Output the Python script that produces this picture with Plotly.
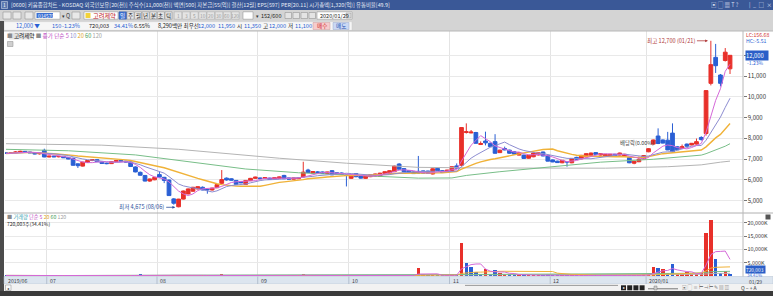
import plotly.graph_objects as go
import pandas as pd

W, H = 773, 296
FONT = "Noto Sans CJK KR"

# ---------------- data ----------------
month_labels = ["2019/06", "07", "08", "09", "10", "11", "12", "2020/01"]
month_start = [0, 9, 32, 53, 72, 93, 114, 134]
last_label = "01/29"

open_ = [7300, 7270, 7300, 7340, 7370, 7340, 7300, 7250, 7420, 7100,
         7140, 7110, 7130, 7080, 7040, 6770, 6660, 6830, 6930, 6970,
         6860, 6800, 6780, 6880, 6930, 6900, 6860, 6620, 6360, 6210,
         5940, 6000, 6250, 6120, 5990, 5080, 4700, 5070, 5320, 5450,
         5560, 5640, 5540, 5510, 5620, 5830, 6080, 6050, 5970, 5920,
         5780, 5960, 6070, 6090, 6060, 6080, 6040, 6070, 6210, 6090,
         6030, 6050, 6140, 6470, 6310, 6380, 6380, 6300, 6440, 6340,
         6330, 6230, 6070, 6300, 6180, 6070, 6150, 6180, 6160, 6310,
         6300, 6390, 6760, 6540, 6440, 6380, 6410, 6430, 6420, 6280,
         6550, 6440, 6360, 6400, 6670, 6700, 8280, 8260, 8280, 7700,
         7870, 7760, 7840, 7310, 7510, 7430, 7350, 7190, 7190, 7040,
         7110, 7200, 7340, 7180, 6960, 6900, 6820, 6880, 6820, 7080,
         7010, 7100, 7180, 7310, 7190, 7140, 7150, 7230, 7190, 7140,
         7080, 6800, 6870, 7000, 7350, 7720, 8110, 7920, 7910, 8250,
         7590, 7510, 7720, 7680, 7720, 8040, 8230, 10650, 11900, 11050,
         11750, 11350]
high = [7330, 7310, 7380, 7400, 7390, 7360, 7310, 7290, 7500, 7160,
        7170, 7150, 7140, 7100, 7060, 6790, 6870, 6950, 6990, 6990,
        6880, 6830, 6900, 6940, 6950, 6920, 6880, 6650, 6400, 6230,
        6060, 6140, 6390, 6140, 6010, 5120, 5080, 5480, 5580, 5660,
        5680, 5680, 5570, 5620, 5790, 6470, 6110, 6070, 5990, 5940,
        5990, 6090, 6150, 6110, 6120, 6100, 6110, 6160, 6240, 6110,
        6100, 6110, 6870, 6530, 6420, 6420, 6400, 6390, 6470, 6360,
        6350, 6250, 6230, 6320, 6200, 6200, 6260, 6300, 6340, 6400,
        6460, 6690, 6800, 6570, 6460, 6400, 7150, 6450, 6440, 6550,
        6570, 6460, 6480, 6640, 6790, 8520, 8720, 8400, 8310, 7850,
        8320, 7800, 8200, 7450, 7600, 7450, 7370, 7310, 7210, 7200,
        7310, 7310, 7360, 7200, 6980, 6920, 6950, 6890, 7050, 7110,
        7200, 7280, 7310, 7330, 7290, 7240, 7240, 7250, 7310, 7240,
        7100, 6910, 7120, 7190, 7530, 7940, 8480, 7950, 8310, 8720,
        7630, 7700, 7750, 7770, 7990, 8100, 10300, 12700, 12550, 11100,
        12350, 12000]
low = [7250, 7250, 7290, 7320, 7320, 7290, 7230, 7220, 7090, 7080,
       7090, 7080, 7050, 6990, 6680, 6570, 6640, 6810, 6900, 6860,
       6770, 6750, 6770, 6860, 6880, 6840, 6620, 6360, 6200, 5920,
       5900, 5980, 6110, 5840, 5230, 4800, 4675, 5050, 5300, 5420,
       5540, 5500, 5330, 5480, 5600, 5800, 5960, 5960, 5760, 5840,
       5760, 5940, 6050, 6040, 6040, 6000, 6020, 6050, 6030, 6010,
       6020, 6040, 6120, 6330, 6290, 6340, 6290, 6280, 6220, 6260,
       6250, 5680, 6050, 6120, 6060, 6050, 6130, 6160, 6140, 6290,
       6280, 6370, 6480, 6370, 6330, 6290, 6300, 6300, 6290, 6260,
       6420, 6330, 6340, 6380, 6540, 6650, 8230, 8240, 7740, 7680,
       7660, 7580, 7260, 7290, 7420, 7260, 7230, 7170, 7010, 7020,
       7090, 7170, 7130, 6890, 6850, 6810, 6800, 6630, 6800, 6970,
       6990, 7080, 7160, 7210, 7170, 7120, 7140, 7140, 7170, 7120,
       6800, 6750, 6850, 6980, 7330, 7700, 7720, 7750, 7430, 7330,
       7430, 7490, 7600, 7660, 7700, 7890, 8130, 10550, 11150, 10500,
       11700, 11100]
close = [7270, 7300, 7340, 7370, 7340, 7300, 7250, 7280, 7100, 7140,
         7110, 7130, 7060, 7000, 6700, 6680, 6850, 6930, 6970, 6870,
         6790, 6780, 6880, 6930, 6900, 6860, 6640, 6380, 6220, 5940,
         6040, 6120, 6130, 5970, 5240, 4870, 5070, 5460, 5560, 5640,
         5670, 5510, 5520, 5600, 5770, 6010, 5990, 5980, 5780, 5850,
         5970, 6070, 6130, 6060, 6110, 6020, 6100, 6140, 6050, 6030,
         6090, 6090, 6370, 6350, 6400, 6360, 6310, 6380, 6240, 6280,
         6260, 6210, 6220, 6150, 6080, 6180, 6240, 6280, 6320, 6390,
         6440, 6660, 6510, 6390, 6350, 6300, 6320, 6320, 6310, 6530,
         6440, 6350, 6470, 6630, 6560, 8520, 8320, 8300, 7760, 7750,
         7780, 7600, 7280, 7430, 7440, 7280, 7240, 7300, 7030, 7180,
         7290, 7300, 7150, 6900, 6860, 6830, 6940, 6860, 7030, 6990,
         7180, 7260, 7290, 7230, 7260, 7230, 7230, 7150, 7290, 7230,
         6820, 6890, 6990, 7170, 7500, 7920, 7750, 7770, 7440, 7350,
         7450, 7600, 7620, 7760, 7840, 7940, 10300, 11550, 11500, 10650,
         12150, 12000]
volume_k = [210, 160, 240, 190, 150, 140, 170, 130, 290, 180,
            150, 130, 160, 200, 310, 260, 230, 190, 150, 140,
            160, 130, 170, 150, 120, 130, 230, 330, 380, 300,
            240, 190, 210, 220, 350, 330, 360, 300, 250, 220,
            180, 170, 200, 160, 230, 510, 250, 180, 200, 150,
            170, 160, 150, 120, 130, 140, 120, 150, 170, 140,
            130, 150, 640, 300, 220, 150, 140, 130, 200, 150,
            140, 210, 180, 160, 140, 150, 130, 140, 160, 150,
            170, 280, 260, 190, 160, 150, 2890, 420, 250, 300,
            220, 170, 210, 380, 420, 12290, 4770, 3520, 1510, 510,
            2760, 760, 2260, 1010, 630, 420, 350, 300, 380, 260,
            310, 240, 280, 450, 300, 220, 200, 260, 240, 180,
            200, 220, 190, 150, 140, 130, 120, 140, 150, 130,
            240, 200, 260, 380, 760, 3260, 2890, 2510, 1010, 4390,
            630, 810, 1390, 630, 810, 1260, 16300, 21060, 6270, 1260,
            1890, 720]

ma60_x = [0, 13, 27, 38, 50, 61, 71, 86, 93, 96, 103, 114, 124, 135, 145, 146, 147, 148, 149, 150, 151]
ma60_v = [7470, 7400, 7200, 6880, 6520, 6340, 6230, 6080, 6090, 6210, 6390, 6630, 6850, 6990, 7190, 7260, 7350, 7430, 7510, 7620, 7740]
ma120_x = [0, 20, 36, 50, 57, 71, 86, 100, 115, 125, 138, 145, 149, 151]
ma120_v = [7740, 7670, 7470, 7180, 7040, 6800, 6600, 6570, 6560, 6560, 6630, 6720, 6850, 6900]

price_ticks = [5000, 6000, 7000, 8000, 9000, 10000, 11000, 12000]
vol_ticks = [5000, 10000, 15000, 20000]

# ---------------- derived ----------------
n = len(close)
idx = list(range(n))
cs = pd.Series(close, dtype=float)
ma5 = cs.rolling(5, min_periods=1).mean()
ma10 = cs.rolling(10, min_periods=1).mean()
ma20 = cs.rolling(20, min_periods=1).mean()
vs = pd.Series(volume_k, dtype=float)
vma5 = vs.rolling(5, min_periods=1).mean()
vma20 = vs.rolling(20, min_periods=1).mean()
vma60 = vs.rolling(60, min_periods=1).mean()
vma120 = vs.rolling(120, min_periods=1).mean()

RED = "#e8302a"
BLUE = "#2a5fd4"
C5, C10, C20, C60, C120 = "#d468d8", "#8c8cd0", "#f0b238", "#78be88", "#b4b4b4"

prev = [open_[0]] + close[:-1]
vol_colors = [RED if c >= p else BLUE for c, p in zip(close, prev)]

fig = go.Figure()
fig.add_trace(go.Scatter(x=ma120_x, y=ma120_v, mode="lines", line=dict(color=C120, width=1)))
fig.add_trace(go.Scatter(x=ma60_x, y=ma60_v, mode="lines", line=dict(color=C60, width=1)))
fig.add_trace(go.Scatter(x=idx, y=ma20, mode="lines", line=dict(color=C20, width=1.4)))
fig.add_trace(go.Scatter(x=idx, y=ma10, mode="lines", line=dict(color=C10, width=1)))
fig.add_trace(go.Scatter(x=idx, y=ma5, mode="lines", line=dict(color=C5, width=1)))
fig.add_trace(go.Candlestick(
    x=idx, open=open_, high=high, low=low, close=close,
    increasing=dict(line=dict(color=RED, width=1), fillcolor=RED),
    decreasing=dict(line=dict(color=BLUE, width=1), fillcolor=BLUE),
    whiskerwidth=0, hoverinfo="skip"))
fig.add_trace(go.Bar(x=idx, y=volume_k, marker=dict(color=vol_colors, line=dict(width=0)),
                     width=0.72, xaxis="x2", yaxis="y2"))
for ser, col in [(vma120, C120), (vma60, C60), (vma20, C20), (vma5, C5)]:
    fig.add_trace(go.Scatter(x=idx, y=ser, mode="lines", line=dict(color=col, width=1),
                             xaxis="x2", yaxis="y2"))

def PX(x):
    return x / W

def PY(y):
    return 1 - y / H

X0, X1 = 5, 742.5
PT, PB = 31, 213
VT, VB = 213, 276
xr = [-0.2, 153.6]
price_range = [4400, 13172]
vol_range = [0, 23640]
last_close = close[-1]

grid_x = [m - 0.5 for m in month_start[1:]]
common_x = dict(domain=[PX(X0), PX(X1)], range=xr, showticklabels=False, ticks="",
                tickvals=grid_x, showgrid=True, gridcolor="#e4e4e4", gridwidth=1,
                zeroline=False, showline=False, fixedrange=True)

# the close price label replaces its own tick label on the right axis
price_ticktext = ["" if v == last_close else f"{v:,}" for v in price_ticks]

fig.update_layout(
    width=W, height=H, margin=dict(l=0, r=0, t=0, b=0),
    paper_bgcolor="white", plot_bgcolor="rgba(0,0,0,0)",
    showlegend=False, boxgap=0.22, boxgroupgap=0, bargap=0,
    font=dict(family=FONT, size=6, color="#333"),
    xaxis=dict(**common_x, anchor="y", rangeslider=dict(visible=False)),
    xaxis2=dict(**common_x, anchor="y2", matches="x"),
    yaxis=dict(domain=[PY(PB), PY(PT)], range=price_range, side="right", anchor="x",
               tickvals=price_ticks, ticktext=price_ticktext,
               ticks="outside", ticklen=3, tickcolor="#777", tickfont=dict(size=6, color="#333"),
               showgrid=True, gridcolor="#e9e9e9", zeroline=False, showline=False, fixedrange=True),
    yaxis2=dict(domain=[PY(VB), PY(VT)], range=vol_range, side="right", anchor="x2",
                tickvals=vol_ticks, ticktext=[f"{v:,}K" for v in vol_ticks],
                ticks="outside", ticklen=3, tickcolor="#777", tickfont=dict(size=5.4, color="#333"),
                showgrid=True, gridcolor="#e9e9e9", zeroline=False, showline=False, fixedrange=True),
)

shapes = []
ann = []

def rect(x0, y0, x1, y1, fill, line=None, lw=0.6, layer="above"):
    shapes.append(dict(type="rect", xref="paper", yref="paper", x0=PX(x0), x1=PX(x1),
                       y0=PY(y1), y1=PY(y0), fillcolor=fill, layer=layer,
                       line=dict(color=line if line else fill, width=lw if line else 0)))

def hline(x0, x1, y, color, w=1):
    shapes.append(dict(type="line", xref="paper", yref="paper", x0=PX(x0), x1=PX(x1),
                       y0=PY(y), y1=PY(y), line=dict(color=color, width=w), layer="above"))

def vline(x, y0, y1, color, w=1):
    shapes.append(dict(type="line", xref="paper", yref="paper", x0=PX(x), x1=PX(x),
                       y0=PY(y0), y1=PY(y1), line=dict(color=color, width=w), layer="above"))

def text(x, y, s, color="#222", size=6, anchor="left", bg=None):
    d = dict(xref="paper", yref="paper", x=PX(x), y=PY(y), text=s, showarrow=False,
             xanchor=anchor, yanchor="middle", font=dict(size=size, color=color, family=FONT),
             borderpad=0)
    if bg:
        d["bgcolor"] = bg
    ann.append(d)

# ---- title bar ----
rect(0, 0, W, 10, "#3a5897")
rect(1.5, 1.5, 7.5, 8.5, "#5d79b0", line="#c9d3e8", lw=0.6)
text(4.5, 5, "1", "#ffffff", 5, "center")
text(10, 5, "[0600] 키움종합차트 - KOSDAQ 외국인보유[20(천)] 주식수[11,000(천)] 액면[500] 자본금[55(억)] "
     "결산[12월] EPS[597] PER[20.11] 시가총액[1,320(억)] 유통비율[49.9]", "#e4eaf4", 5.4)
text(710, 5, "▣ ▢ ▦ T ?", "#d6deee", 5.5)
text(748, 5, "|  _  □  ×", "#d6deee", 5.5)

# ---- toolbar ----
rect(0, 10, W, 21, "#d4d4d4")
for x0 in (3, 13, 25):
    rect(x0, 12, x0 + 8, 19, "#e8e8e8", line="#8a8a8a", lw=0.5)
rect(35, 11.8, 60, 19.2, "#ffffff", line="#8a8a8a", lw=0.5)
rect(36.5, 13, 53, 18, "#3b6fd2")
text(37, 15.5, "014570", "#ffffff", 4.8)
text(61, 15.5, "▾", "#333", 5)
text(65, 15.5, "Q", "#333", 5.5)
rect(72, 12, 80, 19, "#e8e8e8", line="#8a8a8a", lw=0.5)
rect(84, 11.8, 118, 19.2, "#ffffff", line="#8a8a8a", lw=0.5)
rect(85.5, 13, 90.5, 18, "#f2d23a")
text(92, 15.5, "고려제약", "#c02020", 6.2)
rect(119, 11.8, 126.5, 19.2, "#3b6fd2", line="#2a4f9a", lw=0.5)
text(122.7, 15.5, "일", "#ffffff", 5.5, "center")
for i, s in enumerate(["주", "월", "년", "분", "초", "틱"]):
    cx = 130.5 + i * 7.6
    rect(cx - 3.5, 11.8, cx + 3.5, 19.2, "#e8e8e8", line="#8a8a8a", lw=0.5)
    text(cx, 15.5, s, "#222", 5.5, "center")
for i, s in enumerate(["1", "3", "5", "10", "20", "30", "60", "120"]):
    cx = 178 + i * 8.2
    rect(cx - 3.8, 11.8, cx + 3.8, 19.2, "#e4e4e4", line="#a8a8a8", lw=0.5)
    text(cx, 15.5, s, "#9a9a9a", 4.8, "center")
rect(243, 11.8, 253, 19.2, "#ffffff", line="#8a8a8a", lw=0.5)
text(255, 15.5, "▾", "#333", 5)
text(260, 15.5, "152/600", "#222", 5.5)
for x0 in (285, 293, 301, 309):
    rect(x0, 12.5, x0 + 6.5, 18.5, "#e4e4e4", line="#8a8a8a", lw=0.5)
rect(317, 11.8, 352, 19.2, "#ffffff", line="#8a8a8a", lw=0.5)
text(319, 15.5, "2020/01/29", "#222", 5.5)
rect(346, 13, 351, 18, "#e0e0e0", line="#777", lw=0.4)

# ---- info row ----
rect(0, 21, W, 31, "#d4d4d4")
rect(4, 21.6, 352, 30.4, "#f6f6f6", line="#c8c8c8", lw=0.5)
IS = 5.6
text(15, 26, "12,000 ▼", BLUE, IS)
text(51, 26, "150", BLUE, IS)
text(61, 26, "-1.23%", BLUE, IS)
text(88, 26, "720,003", "#222", IS)
text(113, 26, "34.41%", BLUE, IS)
text(133, 26, "6.55%", "#222", IS)
text(157, 26, "8,290백만 최우선", "#222", IS)
text(197, 26, "12,000", BLUE, IS)
text(217, 26, "11,950", BLUE, IS)
text(236, 26, "시", "#222", IS)
text(243, 26, "11,350", BLUE, IS)
text(262, 26, "고", "#222", IS)
text(268, 26, "12,000", BLUE, IS)
text(287, 26, "저", "#222", IS)
text(294, 26, "11,100", BLUE, IS)
rect(313, 22.5, 330, 29.5, "#f6cccc", line="#c89a9a", lw=0.5)
text(321.5, 26, "매수", "#d02020", IS, "center")
rect(333, 22.5, 349, 29.5, "#cad8f4", line="#9aa8c8", lw=0.5)
text(341, 26, "매도", "#1f4fb0", IS, "center")

# ---- frame lines ----
rect(0, 21, 4, H, "#4c4c4c")
hline(4, W, PT, "#b8b8b8", 1)
hline(4, W, PB, "#b0b0b0", 1)
vline(X1 + 0.5, PT, 284, "#b8b8b8", 1)

# ---- price legend ----
rect(9, 32.5, 32, 39.5, "#e2e2e2", layer="below")
legend = ("<span style='color:#8a8a8a'>■</span> <span style='color:#222'>고려제약</span> "
          "<span style='color:#8a8a8a'>■</span> <span style='color:#c04cc4'>종가 단순 5</span> "
          f"<span style='color:{C10}'>10</span> <span style='color:#e0a420'>20</span> "
          "<span style='color:#4aa05a'>60</span> <span style='color:#a0a0a0'>120</span>")
text(5.5, 36, legend, "#222", 5.6)
rect(7.5, 41.5, 13, 46.5, "#cfcfcf", line="#8a8a8a", lw=0.5)

# ---- volume legend ----
vlegend = ("<span style='color:#8a8a8a'>■</span> <span style='color:#3c9fb0'>거래량</span> "
           "<span style='color:#c04cc4'>단순 5</span> <span style='color:#e0a420'>20</span> "
           "<span style='color:#4aa05a'>60</span> <span style='color:#a0a0a0'>120</span>")
text(5.5, 216.6, vlegend, "#222", 5.2)
text(6, 224.4, "720,003주(34.41%)", "#222", 5.0)
rect(765.5, 214.5, 770.5, 219.5, "#555555")

# ---- right axis highlights ----
text(745, 35, "LC:156.68", "#d03030", 5.2)
text(745, 40.5, "HC:-5.51", BLUE, 5.2)
ann.append(dict(xref="paper", yref="y", x=PX(744.5), y=last_close, text=f"{last_close:,}&nbsp;&nbsp;&nbsp;",
                showarrow=False, xanchor="left", yanchor="middle",
                font=dict(size=5.8, color="#ffffff", family=FONT), bgcolor="#2b5fc8", borderpad=0))
text(746, 62.5, "-1.23%", BLUE, 5.0)
text(744.5, 269.6, "720,003&nbsp;&nbsp;", "#ffffff", 4.8, bg="#2b5fc8")
text(746, 275.2, "34.41%", "#3a70d8", 4.4)

# ---- chart annotations ----
i_hi = max(idx, key=lambda i: high[i])
i_lo = min(idx, key=lambda i: low[i])
ann.append(dict(xref="x", yref="y", x=i_hi - 0.4, y=high[i_hi], text="최고 12,700 (01/21)",
                showarrow=True, ax=-12, ay=0, xanchor="right", yanchor="middle",
                arrowhead=2, arrowsize=0.7, arrowwidth=0.8, arrowcolor="#b03a3a", standoff=1,
                font=dict(size=5.6, color="#b03a3a", family=FONT)))
ann.append(dict(xref="x", yref="y", x=i_lo - 0.5, y=low[i_lo], text="최저 4,675 (08/06)",
                showarrow=True, ax=-10, ay=0, xanchor="right", yanchor="middle",
                arrowhead=2, arrowsize=0.7, arrowwidth=0.8, arrowcolor="#2a4f9a", standoff=1,
                font=dict(size=5.6, color="#2a4f9a", family=FONT)))
ann.append(dict(xref="x", yref="y", x=131.7, y=7780, text="배당락(0.00%)", showarrow=False,
                xanchor="center", yanchor="middle", font=dict(size=5.4, color="#444", family=FONT)))

# ---- date strip ----
rect(4, 276.5, W, 284, "#dce5ef", line="#b4c0cf", lw=0.5)
for g in grid_x:
    shapes.append(dict(type="line", xref="x", yref="paper", x0=g, x1=g, y0=PY(284), y1=PY(276.5),
                       line=dict(color="#aab6c6", width=0.8), layer="above"))
for lab, m in zip(month_labels, month_start):
    xpos = (m - 0.5) if m > 0 else xr[0]
    ann.append(dict(xref="x", yref="paper", x=xpos, y=PY(280.6), text=lab, showarrow=False,
                    xanchor="left", yanchor="middle", xshift=1,
                    font=dict(size=5.2, color="#444", family=FONT)))
text(748, 281.3, last_label, "#444", 5.0)

# ---- scrollbar & bottom ----
rect(4, 284, W, 291, "#f2f2f2")
rect(5.5, 285, 11, 290.5, "#fafafa", line="#888", lw=0.5)
text(8.2, 287.8, "◂", "#333", 4, "center")
hline(465, 618, 285.4, "#9a9a9a", 1)
for i in range(4):
    rect(621 + i * 6.2, 285.3, 626 + i * 6.2, 290.3, "#222222")
text(622.3, 287.8, "▸", "#fff", 3.6)
hline(648, 678, 288.8, "#777", 1)
rect(654, 286, 657, 290, "#cccccc", line="#666", lw=0.4)
text(681, 287.8, "▣ ▢ ≡ ⊢ ⊣ ⊢ ✎ ▤ ▥", "#777", 4.6)
text(740, 287.8, "Q − + A", "#333", 5)
rect(0, 291, W, H, "#3a3a3a")

fig.update_layout(shapes=shapes, annotations=ann)
fig.write_html("out.html")
